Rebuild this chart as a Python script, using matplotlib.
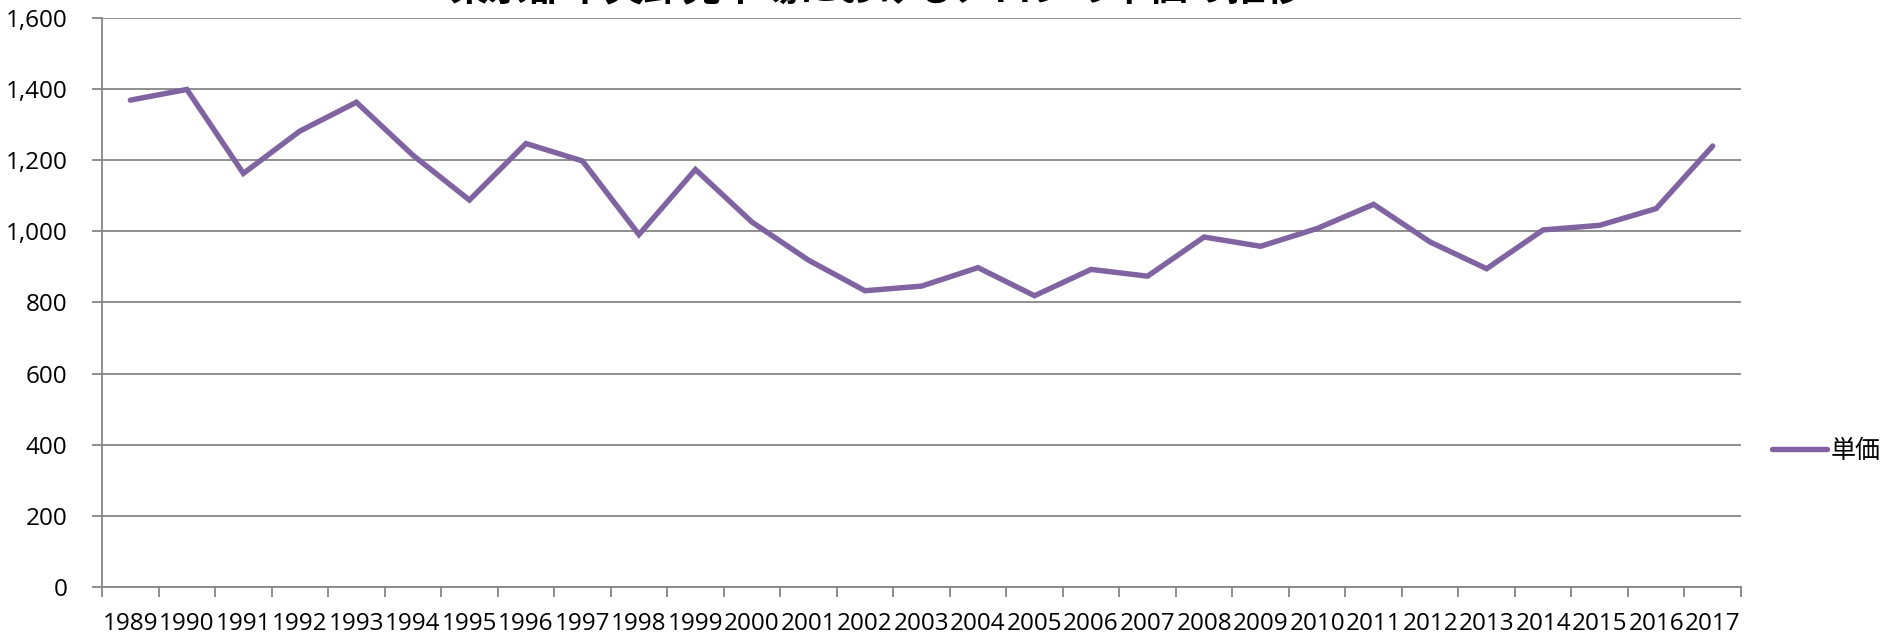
import matplotlib
matplotlib.use('Agg')
import matplotlib.pyplot as plt
import numpy as np

plt.rcParams['font.family'] = ['Open Sans', 'Noto Sans CJK JP', 'DejaVu Sans']

# yearly unit price
years = [str(y) for y in range(1989, 2018)]
price = [1369, 1399, 1163, 1282, 1363, 1214, 1088, 1247, 1198, 991,
         1174, 1026, 919, 833, 846, 898, 819, 893, 874, 984,
         958, 1008, 1076, 970, 895, 1004, 1017, 1064, 1240]
yticks = [0, 200, 400, 600, 800, 1000, 1200, 1400, 1600]
title = '東京都中央卸売市場におけるメロンの単価の推移'

fig = plt.figure(figsize=(18.87, 6.33), dpi=100)
ax = fig.add_axes([0.0541, 0.0727, 0.8685, 0.8989])

x = np.arange(len(years))
ax.plot(x, price, color='#8064A2', linewidth=3.9, solid_capstyle='round',
        solid_joinstyle='miter', label='単価', zorder=3)

ax.set_xlim(-0.5, len(years) - 0.5)
ax.set_ylim(0, 1600)
ax.set_yticks(yticks)
ax.set_yticklabels([f'{v:,}' for v in yticks], fontsize=17.5)
ax.yaxis.grid(True, color='#868686', linewidth=1.3)
ax.set_axisbelow(True)

# category labels at centres, tick marks between categories
ax.set_xticks(x)
ax.set_xticklabels(years, fontsize=17.5)
ax.tick_params(axis='x', which='major', length=0, pad=18)
ax.set_xticks(np.arange(-0.5, len(years)), minor=True)
ax.tick_params(axis='x', which='minor', length=7, width=1.3, color='#868686')
ax.tick_params(axis='y', length=7, width=1.3, color='#868686', pad=18)

for s in ['top', 'right']:
    ax.spines[s].set_visible(False)
for s in ['left', 'bottom']:
    ax.spines[s].set_color('#868686')
    ax.spines[s].set_linewidth(1.3)

ax.legend(loc='center left', bbox_to_anchor=(0.939, 0.2875),
          bbox_transform=fig.transFigure, frameon=False, fontsize=18,
          handlelength=2.2, handletextpad=0.15, borderpad=0, borderaxespad=0)

fig.text(0.465, 1.015, title, fontsize=28, fontweight='bold',
         ha='center', va='center')

fig.savefig('out.png', dpi=100)
